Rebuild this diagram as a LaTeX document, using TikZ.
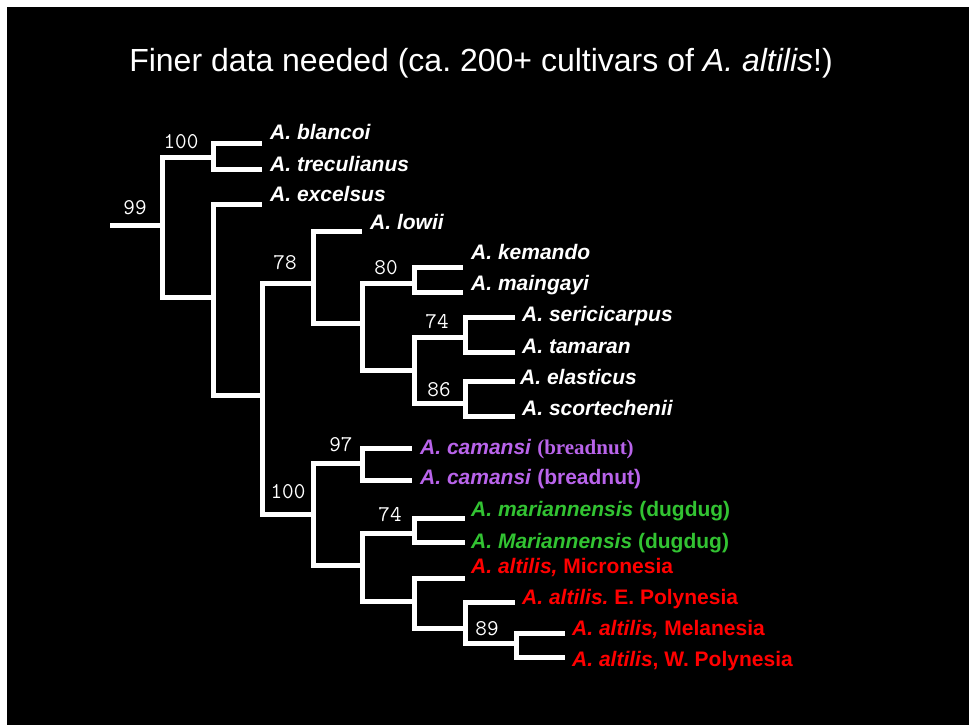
\documentclass[tikz,border=0pt]{standalone}
\usepackage{fontspec}
\setmainfont{Liberation Sans}
\newfontfamily\nutfont{Liberation Serif}
\definecolor{camansi}{RGB}{185,100,235}
\definecolor{dugdug}{RGB}{50,195,50}
\definecolor{altilis}{RGB}{255,0,0}
\frenchspacing

\begin{document}
\begin{tikzpicture}[x=1pt, y=-1pt,
	branch/.style={draw=white, line width=5pt},
	taxon/.style={anchor=base west, inner sep=0pt, text=white, font=\fontsize{21}{25}\selectfont\bfseries},
	boot/.style={inner sep=0pt, text=white, font=\ttfamily\fontsize{22.5}{26}\selectfont}]
	\useasboundingbox (0,0) rectangle (969,725);
	\fill[white] (0,0) rectangle (969,725);
	\fill[black] (7,7) rectangle (969,725);

	\node at (481,71) [anchor=base, inner sep=0pt, text=white, font=\fontsize{32}{38}\selectfont] (title) {Finer data needed (ca. 200+ cultivars of \textit{A. altilis}!)};

	\coordinate (root) at (110,225);
	\coordinate (A) at (162,225);
	\coordinate (B) at (213,157);
	\coordinate (C) at (213,297);
	\coordinate (D) at (262,395);
	\coordinate (E) at (313,283);
	\coordinate (F) at (362,323);
	\coordinate (G) at (414,283);
	\coordinate (H) at (414,370);
	\coordinate (I) at (465,337);
	\coordinate (J) at (465,403);
	\coordinate (K) at (313,514);
	\coordinate (M) at (362,463);
	\coordinate (L) at (362,565);
	\coordinate (N) at (414,533);
	\coordinate (O) at (414,601);
	\coordinate (P) at (465,628);
	\coordinate (Q) at (516,643);

	\coordinate (t1) at (262,143);
	\coordinate (t2) at (262,169);
	\coordinate (t3) at (262,204);
	\coordinate (t4) at (362,231);
	\coordinate (t5) at (463,267);
	\coordinate (t6) at (463,292);
	\coordinate (t7) at (515,317);
	\coordinate (t8) at (515,352);
	\coordinate (t9) at (515,381);
	\coordinate (t10) at (515,416);
	\coordinate (t11) at (412,448);
	\coordinate (t12) at (412,480);
	\coordinate (t13) at (465,518);
	\coordinate (t14) at (465,542);
	\coordinate (t15) at (465,578);
	\coordinate (t16) at (515,602);
	\coordinate (t17) at (565,633);
	\coordinate (t18) at (565,657);

	\node at (270,139) [taxon] (blancoi) {\itshape A. blancoi};
	\node at (270,171) [taxon] (treculianus) {\itshape A. treculianus};
	\node at (270,201) [taxon] (excelsus) {\itshape A. excelsus};
	\node at (370,229) [taxon] (lowii) {\itshape A. lowii};
	\node at (471,259) [taxon] (kemando) {\itshape A. kemando};
	\node at (471,290) [taxon] (maingayi) {\itshape A. maingayi};
	\node at (522,321) [taxon] (sericicarpus) {\itshape A. sericicarpus};
	\node at (522,353) [taxon] (tamaran) {\itshape A. tamaran};
	\node at (520,384) [taxon] (elasticus) {\itshape A. elasticus};
	\node at (522,415) [taxon] (scortechenii) {\itshape A. scortechenii};
	\node at (420,454) [taxon, text=camansi] (camansiA) {\textit{A. camansi} {\nutfont (breadnut)}};
	\node at (420,484) [taxon, text=camansi] (camansiB) {\textit{A. camansi} (breadnut)};
	\node at (471,516) [taxon, text=dugdug] (mariannensisA) {\textit{A. mariannensis} (dugdug)};
	\node at (471,548) [taxon, text=dugdug] (mariannensisB) {\textit{A. Mariannensis} (dugdug)};
	\node at (471,573) [taxon, text=altilis] (micronesia) {\textit{A. altilis,} Micronesia};
	\node at (522,604) [taxon, text=altilis] (epolynesia) {\textit{A. altilis.} E. Polynesia};
	\node at (572,635) [taxon, text=altilis] (melanesia) {\textit{A. altilis,} Melanesia};
	\node at (572,666) [taxon, text=altilis] (wpolynesia) {\textit{A. altilis}, W. Polynesia};

	\node at (135,208) [boot] (b99) {99};
	\node at (181,142) [boot] (b100a) {100};
	\node at (285,263) [boot] (b78) {78};
	\node at (386,268) [boot] (b80) {80};
	\node at (437,322) [boot] (b74a) {74};
	\node at (439,390) [boot] (b86) {86};
	\node at (341,445) [boot] (b97) {97};
	\node at (288,492) [boot] (b100b) {100};
	\node at (390,515) [boot] (b74b) {74};
	\node at (487,629) [boot] (b89) {89};

	\draw [branch] (root) -- (A);
	\draw [branch] (A) |- (B);
	\draw [branch] (A) |- (C);
	\draw [branch] (B) |- (t1);
	\draw [branch] (B) |- (t2);
	\draw [branch] (C) |- (t3);
	\draw [branch] (C) |- (D);
	\draw [branch] (D) |- (E);
	\draw [branch] (D) |- (K);
	\draw [branch] (E) |- (t4);
	\draw [branch] (E) |- (F);
	\draw [branch] (F) |- (G);
	\draw [branch] (F) |- (H);
	\draw [branch] (G) |- (t5);
	\draw [branch] (G) |- (t6);
	\draw [branch] (H) |- (I);
	\draw [branch] (H) |- (J);
	\draw [branch] (I) |- (t7);
	\draw [branch] (I) |- (t8);
	\draw [branch] (J) |- (t9);
	\draw [branch] (J) |- (t10);
	\draw [branch] (K) |- (M);
	\draw [branch] (K) |- (L);
	\draw [branch] (M) |- (t11);
	\draw [branch] (M) |- (t12);
	\draw [branch] (L) |- (N);
	\draw [branch] (L) |- (O);
	\draw [branch] (N) |- (t13);
	\draw [branch] (N) |- (t14);
	\draw [branch] (O) |- (t15);
	\draw [branch] (O) |- (P);
	\draw [branch] (P) |- (t16);
	\draw [branch] (P) |- (Q);
	\draw [branch] (Q) |- (t17);
	\draw [branch] (Q) |- (t18);
\end{tikzpicture}
\end{document}
